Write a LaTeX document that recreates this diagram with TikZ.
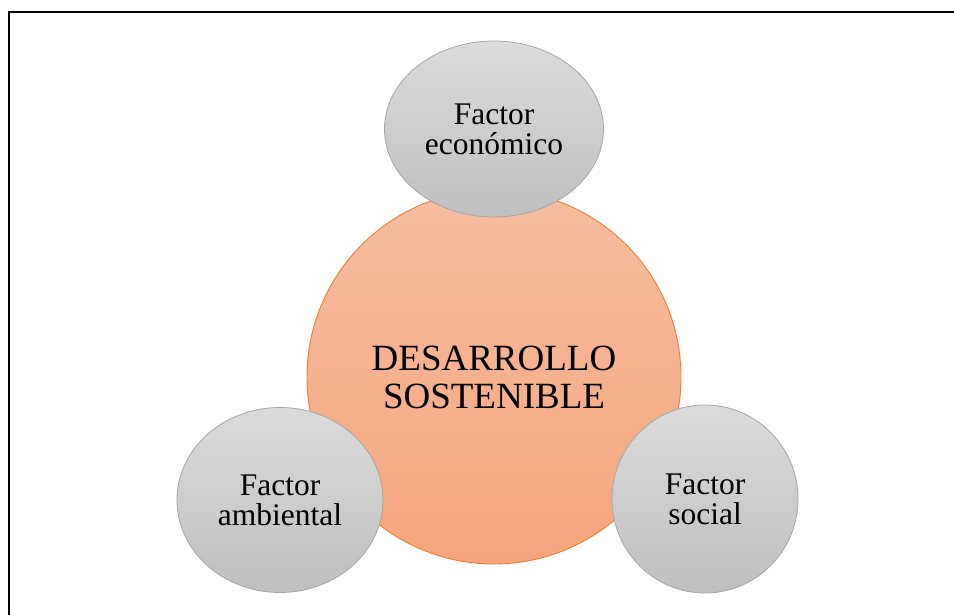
\documentclass[tikz,border=0pt]{standalone}
\usepackage{fontspec}
\setmainfont{Liberation Serif}
\usetikzlibrary{shapes.geometric}
\tikzset{
  grayball/.style={ellipse, draw=black!35, line width=0.8pt, top color=black!14, bottom color=black!25, inner sep=0pt, align=center, font=\fontsize{31.5}{30}\selectfont},
  coreball/.style={circle, draw={rgb,255:red,237;green,125;blue,49}, line width=0.9pt, top color={rgb,255:red,246;green,190;blue,162}, bottom color={rgb,255:red,245;green,164;blue,125}, inner sep=0pt, align=center, font=\fontsize{37}{38}\selectfont},
  frameline/.style={line width=2pt, black}
}
\begin{document}
\begin{tikzpicture}[x=1pt,y=-1pt]
\useasboundingbox (0,0) rectangle (954,615);
\coordinate (c0) at (9,12.5);
\coordinate (c1) at (954,12.5);
\coordinate (c2) at (9,615);
\draw[frameline] (c1) -- (c0) -- (c2);
\node[coreball, minimum size=374pt] (core) at (494,377) {DESARROLLO\\SOSTENIBLE};
\node[grayball, minimum width=219pt, minimum height=176pt] (eco) at (494,129) {Factor\\económico};
\node[grayball, minimum width=206pt, minimum height=185pt] (amb) at (280,500) {Factor\\ambiental};
\node[grayball, minimum width=186pt, minimum height=188pt] (soc) at (705,499) {Factor\\social};
\end{tikzpicture}
\end{document}
